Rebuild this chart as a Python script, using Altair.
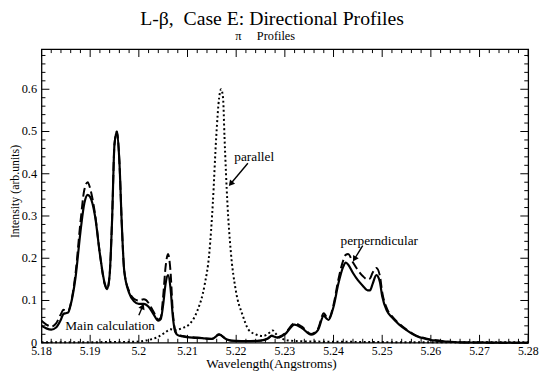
import math
import altair as alt
import pandas as pd

# ---------------- data ----------------
main_x = [5.180, 5.181, 5.182, 5.183, 5.184, 5.1845, 5.185, 5.1855, 5.186, 5.187, 5.188, 5.1888,
          5.1895, 5.190, 5.191, 5.192, 5.193, 5.1935, 5.194, 5.1945, 5.195, 5.1955, 5.196, 5.1965,
          5.197, 5.198, 5.199, 5.200, 5.201, 5.2015, 5.202, 5.203, 5.204, 5.2045, 5.205, 5.2055,
          5.206, 5.2065, 5.207, 5.2075, 5.208, 5.209, 5.211, 5.213, 5.215, 5.2165, 5.218, 5.219,
          5.221, 5.223, 5.225, 5.2265, 5.2273, 5.2285, 5.230, 5.232, 5.2335, 5.2354, 5.2368,
          5.238, 5.2385, 5.239, 5.240, 5.241, 5.242, 5.2425, 5.243, 5.244, 5.245, 5.246, 5.247,
          5.2475, 5.248, 5.2488, 5.2495, 5.250, 5.251, 5.252, 5.2535, 5.255, 5.257, 5.259, 5.261,
          5.263, 5.266, 5.270, 5.275, 5.280]
main_y = [0.040, 0.034, 0.031, 0.036, 0.055, 0.068, 0.070, 0.072, 0.090, 0.155, 0.262, 0.330,
          0.350, 0.345, 0.300, 0.210, 0.140, 0.127, 0.160, 0.290, 0.470, 0.500, 0.430, 0.280,
          0.170, 0.118, 0.098, 0.092, 0.092, 0.090, 0.085, 0.068, 0.052, 0.056, 0.090, 0.140,
          0.160, 0.130, 0.060, 0.025, 0.018, 0.015, 0.012, 0.011, 0.009, 0.019, 0.008, 0.005,
          0.004, 0.004, 0.005, 0.010, 0.016, 0.012, 0.020, 0.043, 0.035, 0.019, 0.030,
          0.064, 0.058, 0.054, 0.085, 0.140, 0.180, 0.190, 0.185, 0.165, 0.148, 0.135, 0.124,
          0.124, 0.138, 0.160, 0.145, 0.110, 0.075, 0.060, 0.043, 0.030, 0.016, 0.009, 0.005,
          0.003, 0.001, 0.0005, 0.0, 0.0]

perp_x = main_x
perp_y = [0.052, 0.043, 0.038, 0.046, 0.068, 0.078, 0.076, 0.075, 0.092, 0.165, 0.285, 0.362,
          0.380, 0.365, 0.305, 0.210, 0.138, 0.127, 0.160, 0.290, 0.470, 0.500, 0.430, 0.280,
          0.170, 0.122, 0.104, 0.100, 0.103, 0.101, 0.094, 0.074, 0.055, 0.060, 0.110, 0.180,
          0.210, 0.170, 0.070, 0.028, 0.019, 0.016, 0.013, 0.011, 0.009, 0.020, 0.008, 0.005,
          0.004, 0.004, 0.005, 0.010, 0.017, 0.013, 0.022, 0.046, 0.038, 0.021, 0.033,
          0.070, 0.062, 0.057, 0.090, 0.150, 0.195, 0.208, 0.210, 0.190, 0.172, 0.158, 0.150,
          0.152, 0.165, 0.177, 0.160, 0.120, 0.080, 0.063, 0.045, 0.031, 0.017, 0.010, 0.006,
          0.003, 0.001, 0.0005, 0.0, 0.0]

par_x = [5.180, 5.185, 5.190, 5.195, 5.198, 5.200, 5.2025, 5.204, 5.2055, 5.2065, 5.2075,
         5.209, 5.2105, 5.212, 5.2135, 5.2145, 5.2152, 5.2159, 5.2165, 5.2169, 5.2173, 5.2176,
         5.2182, 5.2189, 5.2199, 5.2213, 5.2226, 5.224, 5.2255, 5.227, 5.2275, 5.228, 5.229,
         5.231, 5.235, 5.245, 5.260, 5.280]
par_y = [0.001, 0.001, 0.001, 0.002, 0.002, 0.003, 0.008, 0.014, 0.025, 0.032, 0.030,
         0.035, 0.045, 0.075, 0.136, 0.215, 0.330, 0.487, 0.580, 0.600, 0.580, 0.487,
         0.330, 0.215, 0.125, 0.066, 0.030, 0.020, 0.016, 0.025, 0.029, 0.023, 0.012,
         0.005, 0.003, 0.002, 0.001, 0.001]

x_major = [5.18, 5.19, 5.20, 5.21, 5.22, 5.23, 5.24, 5.25, 5.26, 5.27, 5.28]
x_labels = ["5.18", "5.19", "5.2", "5.21", "5.22", "5.23", "5.24", "5.25", "5.26", "5.27", "5.28"]
y_major = [0, 0.1, 0.2, 0.3, 0.4, 0.5, 0.6]
y_labels = ["0", "0.1", "0.2", "0.3", "0.4", "0.5", "0.6"]
x_minor = [round(5.18 + 0.002 * i, 3) for i in range(51) if i % 5]
y_minor = [round(0.02 * i, 2) for i in range(35) if i % 5]

title_text = "L-\u03b2,\u00a0\u00a0Case E: Directional Profiles"
subtitle_text = "\u03c0\u00a0\u00a0\u00a0\u00a0\u00a0Profiles"
x_title = "Wavelength(Angstroms)"
y_title = "Intensity (arb.units)"

# annotations: label text, label position, arrow tail, arrow head
ann_text = ["parallel", "perperndicular", "Main calculation"]
ann_tx = [5.2237, 5.2494, 5.1941]
ann_ty = [0.439, 0.241, 0.039]
arr_x0 = [5.2224, 5.2460, 5.2000]
arr_y0 = [0.425, 0.230, 0.065]
arr_x1 = [5.2190, 5.2444, 5.2007]
arr_y1 = [0.378, 0.200, 0.084]

# ---------------- chart ----------------
W, H = 494, 298
XMIN, XMAX, YMAX = 5.18, 5.28, 0.695
SERIF = "Liberation Serif"

xs = alt.Scale(domain=[XMIN, XMAX], nice=False, zero=False)
ys = alt.Scale(domain=[0, YMAX], nice=False, zero=True)


def px(v):
    return (v - XMIN) / (XMAX - XMIN) * W


def py(v):
    return H - v / YMAX * H


def X(field):
    return alt.X(field, scale=xs, axis=None)


def Y(field):
    return alt.Y(field, scale=ys, axis=None)


main_df = pd.DataFrame({"x": main_x, "y": main_y})
perp_df = pd.DataFrame({"x": perp_x, "y": perp_y})
par_df = pd.DataFrame({"x": par_x, "y": par_y})

angles = []
for a, b, c, d in zip(arr_x0, arr_y0, arr_x1, arr_y1):
    dx = px(c) - px(a)
    dy = py(d) - py(b)
    angles.append(math.degrees(math.atan2(dx, -dy)) % 360)

ann_df = pd.DataFrame({"t": ann_text, "x": ann_tx, "y": ann_ty,
                       "x0": arr_x0, "y0": arr_y0, "x1": arr_x1, "y1": arr_y1,
                       "ang": angles})

main_line = alt.Chart(main_df).mark_line(
    color="black", strokeWidth=2.2, interpolate="monotone"
).encode(x=X("x:Q"), y=Y("y:Q"))

perp_line = alt.Chart(perp_df).mark_line(
    color="black", strokeWidth=2, strokeDash=[9, 4], interpolate="monotone"
).encode(x=X("x:Q"), y=Y("y:Q"))

par_line = alt.Chart(par_df).mark_line(
    color="black", strokeWidth=2, strokeDash=[2, 2.6], interpolate="monotone"
).encode(x=X("x:Q"), y=Y("y:Q"))


def xticks(vals, length):
    df = pd.DataFrame({"x": vals})
    bottom = alt.Chart(df).mark_rule(color="black", strokeWidth=1).encode(
        x=X("x:Q"), y=alt.value(H), y2=alt.value(H - length))
    top = alt.Chart(df).mark_rule(color="black", strokeWidth=1).encode(
        x=X("x:Q"), y=alt.value(0), y2=alt.value(length))
    return [bottom, top]


def yticks(vals, length):
    df = pd.DataFrame({"y": vals})
    left = alt.Chart(df).mark_rule(color="black", strokeWidth=1).encode(
        y=Y("y:Q"), x=alt.value(0), x2=alt.value(length))
    right = alt.Chart(df).mark_rule(color="black", strokeWidth=1).encode(
        y=Y("y:Q"), x=alt.value(W), x2=alt.value(W - length))
    return [left, right]


tick_layers = xticks(x_major, 8) + xticks(x_minor, 4) + yticks(y_major, 8) + yticks(y_minor, 4)

xlab = alt.Chart(pd.DataFrame({"x": x_major, "t": x_labels})).mark_text(
    font=SERIF, fontSize=12, color="black", align="center", baseline="alphabetic"
).encode(x=X("x:Q"), y=alt.value(H + 12), text="t:N")
ylab = alt.Chart(pd.DataFrame({"y": y_major, "t": y_labels})).mark_text(
    font=SERIF, fontSize=12.5, color="black", align="right", baseline="middle"
).encode(y=Y("y:Q"), x=alt.value(-4.5), text="t:N")

xtitle = alt.Chart(pd.DataFrame({"t": [x_title]})).mark_text(
    font=SERIF, fontSize=13.5, color="black", align="center", baseline="alphabetic"
).encode(x=alt.value(233.5), y=alt.value(H + 26), text="t:N")
ytitle = alt.Chart(pd.DataFrame({"t": [y_title]})).mark_text(
    font=SERIF, fontSize=12, color="black", align="center", baseline="middle", angle=270
).encode(x=alt.value(-27), y=alt.value(144.5), text="t:N")
main_title = alt.Chart(pd.DataFrame({"t": [title_text]})).mark_text(
    font=SERIF, fontSize=20, color="black", align="center", baseline="alphabetic"
).encode(x=alt.value(234), y=alt.value(-25), text="t:N")
sub_title = alt.Chart(pd.DataFrame({"t": [subtitle_text]})).mark_text(
    font=SERIF, fontSize=12.5, color="black", align="center", baseline="alphabetic"
).encode(x=alt.value(227), y=alt.value(-9.5), text="t:N")

arrows = alt.Chart(ann_df).mark_rule(color="black", strokeWidth=1.4).encode(
    x=X("x0:Q"), y=Y("y0:Q"), x2="x1:Q", y2="y1:Q")
heads = alt.Chart(ann_df).mark_point(
    shape="triangle", filled=True, color="black", size=45, opacity=1
).encode(x=X("x1:Q"), y=Y("y1:Q"), angle=alt.Angle("ang:Q", scale=None))
labels = alt.Chart(ann_df).mark_text(
    font=SERIF, fontSize=13.5, color="black", align="center", baseline="middle"
).encode(x=X("x:Q"), y=Y("y:Q"), text="t:N")

chart = alt.layer(
    par_line, perp_line, main_line, *tick_layers, xlab, ylab, xtitle, ytitle,
    main_title, sub_title, arrows, heads, labels
).properties(
    width=W, height=H,
    autosize=alt.AutoSizeParams(type="none"),
    padding={"left": 34, "top": 39, "right": 14, "bottom": 30},
).configure_view(stroke="black", strokeWidth=1.3)

chart.save("out.html", embed_options={"renderer": "svg", "actions": False})
